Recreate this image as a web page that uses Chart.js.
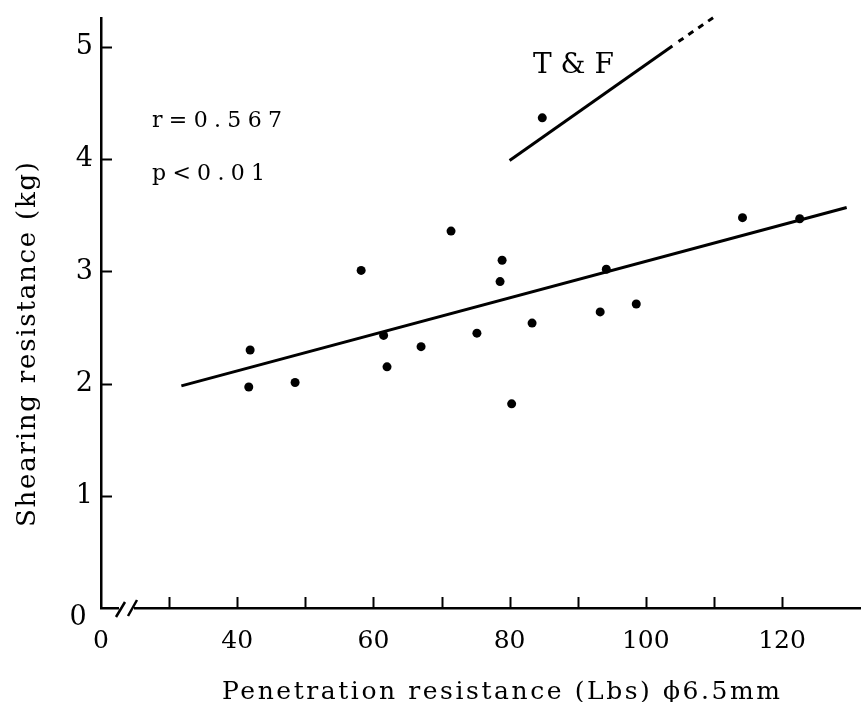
<!DOCTYPE html>
<html lang="en">
<head>
<meta charset="UTF-8">
<title>Shearing vs penetration resistance</title>
<script src="https://cdn.jsdelivr.net/npm/chart.js"></script>
<style>
    html, body { margin: 0; padding: 0; background: #fff; }
    #wrap { width: 861px; height: 702px; }
</style>
</head>
<body>
<div id="wrap"><canvas id="chart" width="861" height="702"></canvas></div>
<script>
// measured points (penetration Lbs, shearing kg)
const penetration = [41.9, 41.7, 48.5, 58.2, 61.5, 62.0, 67.0, 71.4, 75.2, 78.6, 78.9, 80.3, 83.3, 93.3, 94.2, 98.6, 114.2, 122.6];
const shearing    = [2.30, 1.97, 2.01, 3.01, 2.43, 2.15, 2.33, 3.36, 2.45, 2.91, 3.10, 1.82, 2.54, 2.64, 3.02, 2.71, 3.48, 3.47];
// single T & F point
const tfX = [84.8];
const tfY = [4.37];
// regression line ends
const fitX = [31.8, 129.5];
const fitY = [1.98, 3.57];
// T & F line, solid part and dashed extension
const tfLineX = [80.0, 103.9];
const tfLineY = [3.99, 5.01];
const tfDashX = [104.8, 110.3];
const tfDashY = [5.05, 5.28];
// 20 is where the broken axis starts, it is labelled 0
const xTicks = [20, 30, 40, 50, 60, 70, 80, 90, 100, 110, 120];
const yTicks = [0, 1, 2, 3, 4, 5];

const SERIF = "'DejaVu Serif', 'Liberation Serif', serif";

function pts(xs, ys) {
    return xs.map((x, i) => ({ x: x, y: ys[i] }));
}

function spacedText(ctx, text, x, y, width) {
    ctx.letterSpacing = '0px';
    const w = ctx.measureText(text).width;
    const sp = Math.max(0, (width - w) / (text.length - 1));
    ctx.letterSpacing = sp + 'px';
    ctx.fillText(text, x, y);
    ctx.letterSpacing = '0px';
}

const decor = {
    id: 'decor',
    afterDraw(chart) {
        const ctx = chart.ctx;
        const xs = chart.scales.x, ys = chart.scales.y;
        const left = chart.chartArea.left, bottom = chart.chartArea.bottom;
        ctx.save();
        ctx.strokeStyle = '#000';
        ctx.fillStyle = '#000';
        ctx.lineWidth = 2;

        // inward tick marks
        xTicks.forEach(v => {
            if (v === 20) return;
            const px = Math.round(xs.getPixelForValue(v)) + 0.5;
            ctx.beginPath();
            ctx.moveTo(px, bottom);
            ctx.lineTo(px, bottom - 11);
            ctx.stroke();
        });
        yTicks.forEach(v => {
            if (v === 0) return;
            const py = Math.round(ys.getPixelForValue(v)) + 0.5;
            ctx.beginPath();
            ctx.moveTo(left, py);
            ctx.lineTo(left + 11, py);
            ctx.stroke();
        });

        // axis break
        ctx.fillStyle = '#fff';
        ctx.fillRect(119, bottom - 4, 15, 8);
        ctx.fillStyle = '#000';
        ctx.lineWidth = 2.5;
        ctx.beginPath();
        ctx.moveTo(116, bottom + 9); ctx.lineTo(125, bottom - 6);
        ctx.moveTo(128, bottom + 8); ctx.lineTo(137, bottom - 8);
        ctx.stroke();

        // y zero label sits a little off the axis
        ctx.font = '27px ' + SERIF;
        ctx.textAlign = 'center';
        ctx.textBaseline = 'alphabetic';
        ctx.fillText('0', 78, 625);

        // statistics and group label
        ctx.textAlign = 'left';
        ctx.font = '22px ' + SERIF;
        spacedText(ctx, 'r=0.567', 152, 127, 130);
        spacedText(ctx, 'p<0.01', 152, 180, 113);
        ctx.font = '28px ' + SERIF;
        ctx.fillText('T & F', 533, 73);

        // axis titles
        ctx.font = '25px ' + SERIF;
        spacedText(ctx, 'Penetration resistance (Lbs) \u03D56.5mm', 222, 699, 558);
        ctx.save();
        ctx.translate(35, 527);
        ctx.rotate(-Math.PI / 2);
        ctx.font = '26px ' + SERIF;
        spacedText(ctx, 'Shearing resistance (kg)', 0, 0, 365);
        ctx.restore();

        ctx.restore();
    }
};

new Chart(document.getElementById('chart'), {
    type: 'scatter',
    data: {
        datasets: [
            { data: pts(penetration, shearing), pointRadius: 4.5, pointBackgroundColor: '#000', pointBorderWidth: 0, showLine: false },
            { data: pts(tfX, tfY), pointRadius: 4.5, pointBackgroundColor: '#000', pointBorderWidth: 0, showLine: false },
            { data: pts(fitX, fitY), showLine: true, pointRadius: 0, borderColor: '#000', borderWidth: 3 },
            { data: pts(tfLineX, tfLineY), showLine: true, pointRadius: 0, borderColor: '#000', borderWidth: 3 },
            { data: pts(tfDashX, tfDashY), showLine: true, pointRadius: 0, borderColor: '#000', borderWidth: 3, borderDash: [6, 6], clip: false }
        ]
    },
    options: {
        responsive: false,
        animation: false,
        devicePixelRatio: 1,
        layout: { autoPadding: false, padding: { top: 18, right: 0, left: 0, bottom: 0 } },
        plugins: { legend: { display: false }, tooltip: { enabled: false } },
        scales: {
            x: {
                type: 'linear',
                min: 20,
                max: 131.6,
                afterBuildTicks: s => { s.ticks = xTicks.map(v => ({ value: v })); },
                afterFit: s => { s.height = 94; s.paddingLeft = 0; s.paddingRight = 0; },
                ticks: {
                    autoSkip: false,
                    maxRotation: 0,
                    padding: 18,
                    color: '#000',
                    font: { family: SERIF, size: 25 },
                    callback: v => v === 20 ? '0' : (v % 20 === 0 ? String(v) : '')
                },
                grid: { drawOnChartArea: false, drawTicks: false },
                border: { display: true, color: '#000', width: 2.5 }
            },
            y: {
                min: 0,
                max: 5.26,
                afterBuildTicks: s => { s.ticks = yTicks.map(v => ({ value: v })); },
                afterFit: s => { s.width = 101; s.paddingTop = 0; s.paddingBottom = 0; },
                ticks: {
                    padding: 8,
                    color: '#000',
                    font: { family: SERIF, size: 27 },
                    callback: v => v === 0 ? '' : String(v)
                },
                grid: { drawOnChartArea: false, drawTicks: false },
                border: { display: true, color: '#000', width: 2.5 }
            }
        }
    },
    plugins: [decor]
});
</script>
</body>
</html>
